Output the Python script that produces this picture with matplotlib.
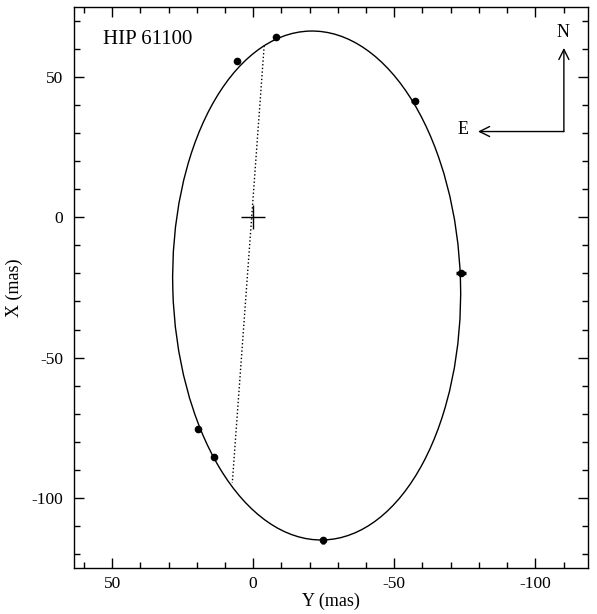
"""
Astrometric orbit of HIP 61100 on the sky plane.
"""
import matplotlib
matplotlib.use("Agg")
import matplotlib.pyplot as plt
from matplotlib.patches import Ellipse
from matplotlib.ticker import MultipleLocator
import numpy as np

# fitted orbit ellipse (Y, X in mas)
orbit_center = (-22.5, -24.3)
orbit_minor = 102.0
orbit_major = 181.5
orbit_angle = -1.5

# line of nodes end points
node_y = [-3.9, 7.4]
node_x = [61.2, -94.7]

# measured positions and their errors
obs_y = [5.6, -8.0, -57.2, -73.6, 19.7, 14.0, -24.7]
obs_x = [55.6, 64.2, 41.4, -20.0, -75.6, -85.3, -115.2]
obs_yerr = [0.4, 0.4, 1.4, 1.8, 0.3, 0.3, 0.3]
obs_xerr = [0.4, 0.4, 0.3, 0.6, 0.9, 1.0, 1.3]

star_name = "HIP 61100"

plt.rcParams['font.family'] = ['Liberation Serif', 'DejaVu Serif']
plt.rcParams['axes.unicode_minus'] = False

fig = plt.figure(figsize=(5.97, 6.14), dpi=100)
ax = fig.add_axes([0.124, 0.075, 0.861, 0.9136])

ax.add_patch(Ellipse(orbit_center, orbit_minor, orbit_major, angle=orbit_angle,
                     fill=False, edgecolor='black', lw=1.0))
ax.plot(node_y, node_x, color='black', linestyle=':', lw=1.0)
ax.plot([0], [0], marker='+', color='black', markersize=17, mew=1.0)
ax.errorbar(obs_y, obs_x, xerr=obs_yerr, yerr=obs_xerr, fmt='o', color='black',
            markersize=4.5, elinewidth=2.5, capsize=0)

ax.set_xlim(63.5, -118.7)
ax.set_ylim(-125, 75)
ax.xaxis.set_major_locator(MultipleLocator(50))
ax.xaxis.set_minor_locator(MultipleLocator(10))
ax.yaxis.set_major_locator(MultipleLocator(50))
ax.yaxis.set_minor_locator(MultipleLocator(10))
ax.tick_params(which='both', direction='in', top=True, right=True,
               labelsize=12.5, width=1.0)
ax.tick_params(which='major', length=7)
ax.tick_params(axis='x', which='major', pad=6)
ax.tick_params(axis='y', which='major', pad=8)
ax.tick_params(which='minor', length=4)
for s in ax.spines.values():
    s.set_linewidth(1.0)

ax.set_xlabel('Y (mas)', fontsize=13, labelpad=0)
ax.set_ylabel('X (mas)', fontsize=13, labelpad=6)

ax.text(0.056, 0.934, star_name, transform=ax.transAxes, fontsize=15,
        ha='left', va='baseline')

# compass: north up, east to the left
corner = (0.953, 0.778)
ax.annotate('', xy=(0.953, 0.927), xytext=corner, xycoords='axes fraction',
            arrowprops=dict(arrowstyle='->', lw=1.0, color='black',
                            mutation_scale=18, shrinkA=0, shrinkB=0))
ax.annotate('', xy=(0.786, 0.778), xytext=corner, xycoords='axes fraction',
            arrowprops=dict(arrowstyle='->', lw=1.0, color='black',
                            mutation_scale=18, shrinkA=0, shrinkB=0))
ax.text(0.951, 0.954, 'N', transform=ax.transAxes, fontsize=13,
        ha='center', va='center')
ax.text(0.757, 0.781, 'E', transform=ax.transAxes, fontsize=13,
        ha='center', va='center')

fig.savefig('out.png', dpi=100)
plt.close(fig)
